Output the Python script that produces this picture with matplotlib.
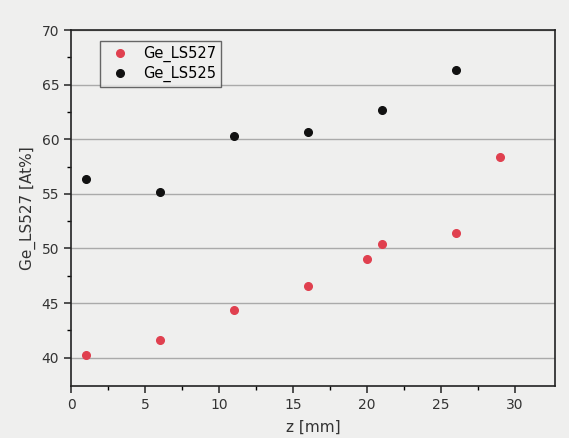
import numpy as np
import matplotlib.pyplot as plt

z_527 = [1, 6, 11, 16, 20, 21, 26, 29]
ge_527 = [40.2, 41.6, 44.4, 46.6, 49.0, 50.4, 51.4, 58.4]

z_525 = [1, 6, 11, 16, 21, 26]
ge_525 = [56.4, 55.2, 60.3, 60.7, 62.7, 66.3]

bg = "#efefee"
fig = plt.figure(figsize=(5.69, 4.38), dpi=100, facecolor=bg)
ax = fig.add_axes([71/569, 1 - 386/438, (555-71)/569, (386-30)/438])
ax.set_facecolor(bg)

ax.plot(z_527, ge_527, "o", color="#e0404f", ms=5.5, label="Ge_LS527")
ax.plot(z_525, ge_525, "o", color="#111111", ms=5.5, label="Ge_LS525")

ax.set_xlim(0, 32.7)
ax.set_ylim(37.4, 70)
ax.set_xticks([0, 5, 10, 15, 20, 25, 30])
ax.set_yticks([40, 45, 50, 55, 60, 65, 70])
ax.set_xticks(np.arange(2.5, 32.5, 5), minor=True)
ax.set_yticks(np.arange(42.5, 70, 5), minor=True)
ax.grid(axis="y", which="major", color="#aaaaaa", lw=1)
ax.tick_params(direction="out", length=5, width=1.2, labelsize=10, colors="#333333")
ax.tick_params(which="minor", direction="out", length=3, width=1)
for s in ax.spines.values():
    s.set_color("#222222")
    s.set_linewidth(1.2)

ax.set_xlabel("z [mm]", fontsize=11, color="#333333", labelpad=6)
ax.set_ylabel("Ge_LS527 [At%]", fontsize=11, color="#333333", labelpad=4)

leg = ax.legend(loc="upper left", bbox_to_anchor=(0.045, 0.99), fontsize=10.5,
                frameon=True, fancybox=False, edgecolor="#444444",
                facecolor=bg, handletextpad=0.6, borderpad=0.35, labelspacing=0.25)
leg.get_frame().set_linewidth(1.0)

fig.savefig("out.png", dpi=100, facecolor=bg)
